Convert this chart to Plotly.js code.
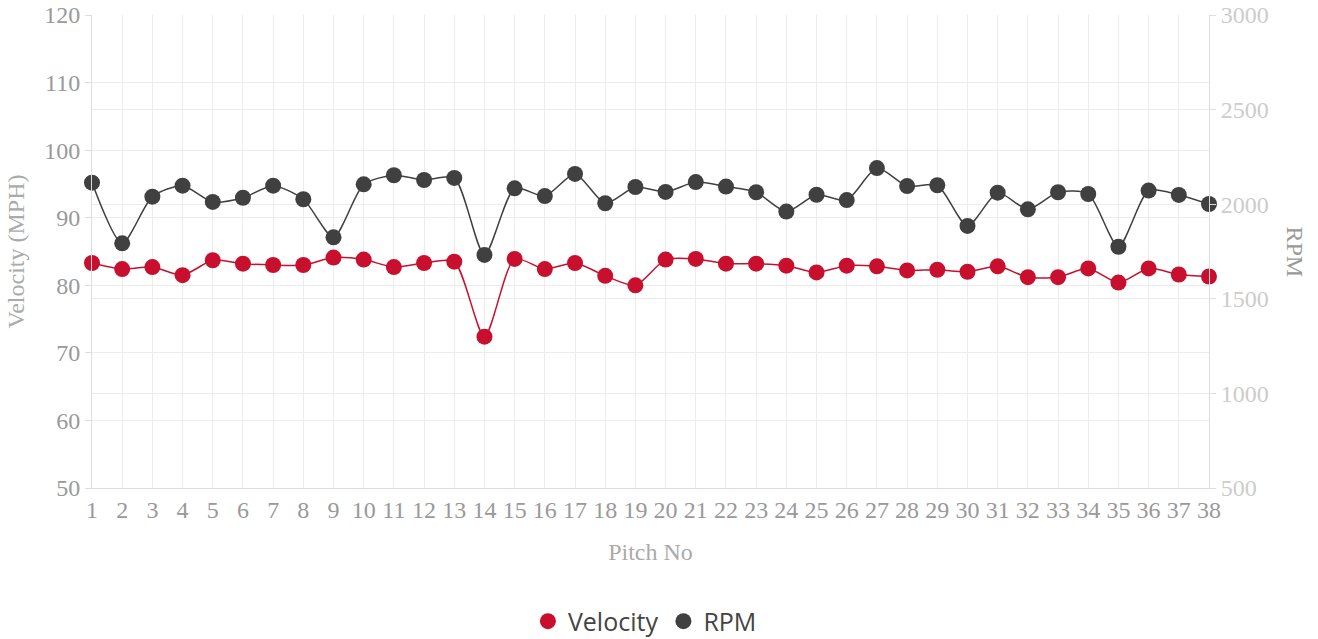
<!DOCTYPE html>
<html>
<head>
<meta charset="utf-8">
<script src="https://cdn.plot.ly/plotly-3.0.1.min.js"></script>
<style>html,body{margin:0;padding:0;background:#fff;}#chart{width:1318px;height:639px;}</style>
</head>
<body>
<div id="chart"></div>
<script>
const pitchNo = [1,2,3,4,5,6,7,8,9,10,11,12,13,14,15,16,17,18,19,20,21,22,23,24,25,26,27,28,29,30,31,32,33,34,35,36,37,38];
const velocity = [83.3,82.4,82.7,81.5,83.7,83.2,83.0,83.0,84.1,83.8,82.7,83.3,83.5,72.4,83.9,82.4,83.3,81.4,80.0,83.8,83.9,83.2,83.2,82.9,81.9,82.9,82.8,82.2,82.3,82.0,82.8,81.2,81.2,82.5,80.4,82.5,81.6,81.3];
const rpm = [2114,1793,2040,2098,2012,2034,2098,2026,1825,2105,2153,2128,2139,1732,2084,2043,2160,2005,2091,2065,2117,2093,2063,1961,2050,2022,2191,2096,2100,1885,2061,1973,2063,2054,1775,2072,2049,2001];
const leftTicks = [50,60,70,80,90,100,110,120];
const rightTicks = [500,1000,1500,2000,2500,3000];

const serif = "Liberation Serif, Times New Roman, serif";
const RED = "#c8102e", DARK = "#404040";
const traces = [
  {x: pitchNo, y: velocity, name: "Velocity", type: "scatter", mode: "lines+markers", showlegend: false,
   line: {color: RED, width: 1.5, shape: "spline", smoothing: 0.7},
   marker: {color: RED, size: 16}, cliponaxis: false, yaxis: "y"},
  {x: pitchNo, y: rpm, name: "RPM", type: "scatter", mode: "lines+markers", showlegend: false,
   line: {color: DARK, width: 1.5, shape: "spline", smoothing: 0.7},
   marker: {color: DARK, size: 16}, cliponaxis: false, yaxis: "y2"},
  {x: [null], y: [null], name: "Velocity", type: "scatter", mode: "markers",
   marker: {color: RED, size: 16}, yaxis: "y"},
  {x: [null], y: [null], name: "RPM", type: "scatter", mode: "markers",
   marker: {color: DARK, size: 16}, yaxis: "y2"}
];
const layout = {
  width: 1318, height: 639,
  margin: {l: 92, r: 109, t: 15, b: 151, autoexpand: false},
  paper_bgcolor: "#fff", plot_bgcolor: "#fff",
  showlegend: true,
  legend: {orientation: "h", x: 0.495, xanchor: "center", y: -0.282, yanchor: "middle",
           font: {family: "Open Sans, sans-serif", size: 25, color: "#444"}, itemsizing: "trace", itemwidth: 30},
  xaxis: {range: [1, 38], tickmode: "array", tickvals: pitchNo, ticktext: pitchNo.map(String),
          showgrid: true, gridcolor: "#ececec", zeroline: false, automargin: false,
          showline: true, linecolor: "#ddd", ticks: "",
          tickfont: {family: serif, size: 24, color: "#999"},
          title: {text: "Pitch No", font: {family: serif, size: 24, color: "#aaa"}, standoff: 21}},
  yaxis: {range: [50, 120], tickmode: "array", tickvals: leftTicks, ticktext: leftTicks.map(String),
          showgrid: true, gridcolor: "#ececec", zeroline: false, automargin: false,
          showline: true, linecolor: "#ddd", ticks: "outside", ticklen: 6, tickcolor: "#ddd",
          tickfont: {family: serif, size: 24, color: "#999"},
          title: {text: "Velocity (MPH)", font: {family: serif, size: 24, color: "#aaa"}, standoff: 12}},
  yaxis2: {range: [500, 3000], overlaying: "y", side: "right", tickmode: "array", tickvals: rightTicks, ticktext: rightTicks.map(String),
           showgrid: true, gridcolor: "#ececec", zeroline: false, automargin: false,
           showline: true, linecolor: "#ddd", ticks: "outside", ticklen: 6, tickcolor: "#ddd",
           tickfont: {family: serif, size: 24, color: "#ccc"}},
  annotations: [{text: "RPM", xref: "paper", yref: "paper", x: 1.077, y: 0.5, xanchor: "center", yanchor: "middle", showarrow: false,
                 textangle: 90, font: {family: serif, size: 24, color: "#999"}}]
};
Plotly.newPlot("chart", traces, layout, {displayModeBar: false, responsive: false});
</script>
</body>
</html>
